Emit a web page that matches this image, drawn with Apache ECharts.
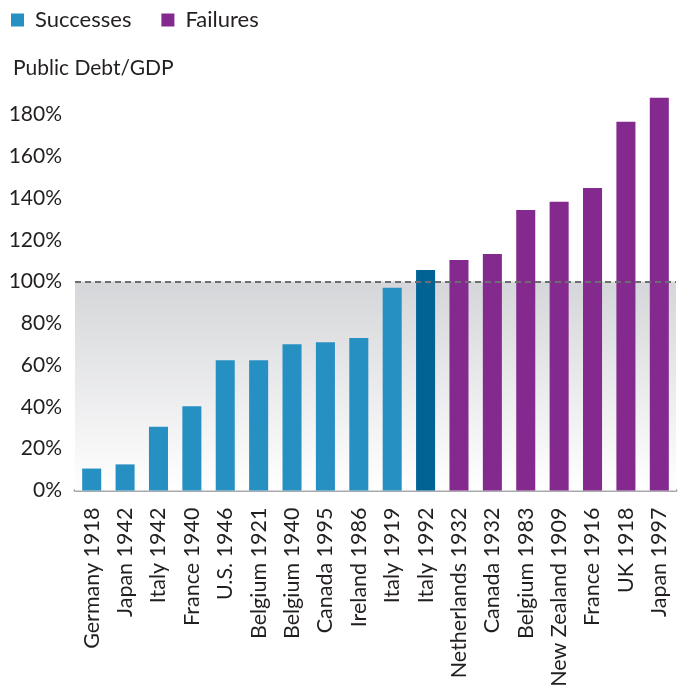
<!DOCTYPE html>
<html>
<head>
<meta charset="utf-8">
<script src="https://cdn.jsdelivr.net/npm/echarts@6/dist/echarts.min.js"></script>
<style>
  html, body { margin: 0; padding: 0; background: #ffffff; }
  #chart { width: 681px; height: 690px; }
</style>
</head>
<body>
<div id="chart"></div>
<script>
// Episodes of public debt reduction, grouped by outcome
const categories = [
  'Germany 1918', 'Japan 1942', 'Italy 1942', 'France 1940', 'U.S. 1946',
  'Belgium 1921', 'Belgium 1940', 'Canada 1995', 'Ireland 1986', 'Italy 1919',
  'Italy 1992', 'Netherlands 1932', 'Canada 1932', 'Belgium 1983',
  'New Zealand 1909', 'France 1916', 'UK 1918', 'Japan 1997'
];
// Public debt as % of GDP (null where the episode belongs to the other group)
const successes = [10.5, 12.5, 30.5, 40.3, 62.3, 62.3, 70, 71, 73, 97, 105.5,
  null, null, null, null, null, null, null];
const failures = [null, null, null, null, null, null, null, null, null, null, null,
  110.3, 113.2, 134.3, 138.2, 144.8, 176.5, 188];
const highlighted = 'Italy 1992';
const yTicks = [0, 20, 40, 60, 80, 100, 120, 140, 160, 180];
const threshold = 100;

const FONT = 'Lato';
const TEXT = '#231f20';
const BLUE = '#2690c3';
const DARK_BLUE = '#006393';
const PURPLE = '#84298e';

const successData = successes.map((v, i) =>
  categories[i] === highlighted ? { value: v, itemStyle: { color: DARK_BLUE } } : v);

const chart = echarts.init(document.getElementById('chart'));
chart.setOption({
  animation: false,
  textStyle: { fontFamily: FONT },
  title: {
    text: 'Public Debt/GDP',
    left: 8, top: 53,
    textStyle: { fontFamily: FONT, fontSize: 21, fontWeight: 'normal', color: TEXT }
  },
  legend: {
    left: 6, top: 4,
    icon: 'rect',
    itemWidth: 13, itemHeight: 13, itemGap: 30,
    textStyle: { fontFamily: FONT, fontSize: 22, color: TEXT, padding: [0, 0, 0, 6] },
    data: ['Successes', 'Failures']
  },
  grid: { left: 75, right: 5, top: 93.5, bottom: 199.5 },
  xAxis: {
    type: 'category',
    data: categories,
    axisLine: { lineStyle: { color: '#a7a9ac', width: 3 } },
    axisTick: { show: false },
    axisLabel: {
      rotate: 90, interval: 0, margin: 17,
      fontFamily: FONT, fontSize: 21.5, color: TEXT
    }
  },
  yAxis: {
    type: 'value',
    min: 0, max: 190, interval: 20,
    axisLine: { show: false },
    axisTick: { show: false },
    splitLine: { show: false },
    axisLabel: {
      margin: 13,
      fontFamily: FONT, fontSize: 21, color: TEXT,
      formatter: v => yTicks.includes(v) ? v + '%' : ''
    }
  },
  series: [
    {
      name: 'Successes',
      type: 'bar',
      barWidth: '57%',
      barGap: '-100%',
      itemStyle: { color: BLUE },
      data: successData,
      z: 3,
      markArea: {
        silent: true,
        itemStyle: {
          color: {
            type: 'linear', x: 0, y: 0, x2: 0, y2: 1,
            colorStops: [
              { offset: 0, color: '#d5d6d9' },
              { offset: 1, color: '#ffffff' }
            ]
          }
        },
        data: [[{ yAxis: 0 }, { yAxis: threshold }]]
      },
      markLine: {
        silent: true,
        symbol: 'none',
        label: { show: false },
        lineStyle: { color: '#6d6e71', width: 2, type: [6, 4] },
        data: [{ yAxis: threshold }]
      }
    },
    {
      name: 'Failures',
      type: 'bar',
      barWidth: '57%',
      itemStyle: { color: PURPLE },
      data: failures,
      z: 3
    }
  ]
});
</script>
</body>
</html>
